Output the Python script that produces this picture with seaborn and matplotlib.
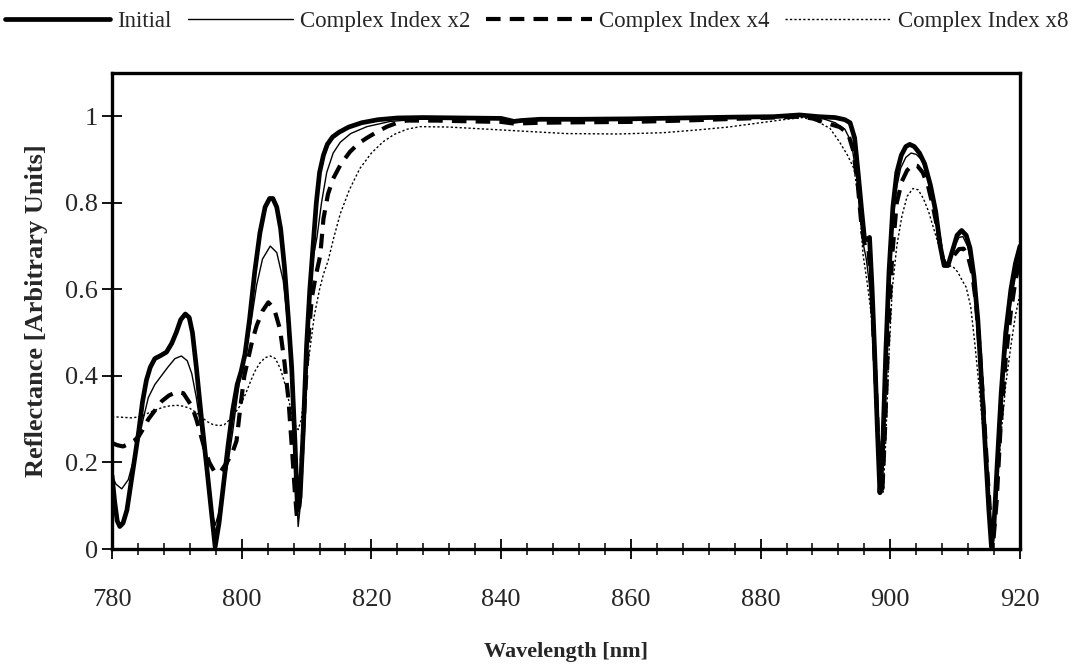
import matplotlib
matplotlib.use("Agg")
import matplotlib.pyplot as plt
from matplotlib.ticker import MultipleLocator
import seaborn as sns
import pandas as pd

# ---------------- data ----------------
series_labels = ["Initial", "Complex Index x2", "Complex Index x4", "Complex Index x8"]

wl_initial = [
    780, 780.4, 780.8, 781.2, 781.7, 782.3, 783, 783.6, 784.1, 784.7,
    785.3, 785.9, 786.6, 787.5, 788.4, 789.2, 789.9, 790.6, 791.3, 791.9,
    792.4, 793, 793.8, 794.6, 795.3, 795.9, 796.5, 797.2, 797.9, 798.6,
    799.3, 799.9, 800.5, 801.2, 802.0, 802.8, 803.6, 804.3, 804.8, 805.4,
    806.0, 806.6, 807.2, 807.7, 808.2, 808.6, 809.0, 809.5, 810.0, 810.5,
    811.0, 811.5, 812.0, 812.6, 813.2, 814.0, 815.0, 816.5, 818.5, 821,
    824, 828, 834, 840, 842, 843, 846, 852, 860, 868,
    876, 882, 886, 889, 891.5, 893, 893.8, 894.5, 895.1, 895.6,
    896.0, 896.4, 896.8, 897.2, 897.6, 898.0, 898.4, 898.8, 899.3, 899.8,
    900.4, 901.0, 901.7, 902.4, 903.0, 903.7, 904.5, 905.3, 906.2, 907.0,
    907.7, 908.3, 908.9, 909.6, 910.3, 911.0, 911.7, 912.3, 912.9, 913.5,
    914.1, 914.7, 915.2, 915.6, 916.0, 916.5, 917.1, 917.8, 918.6, 919.3,
    920,
]
r_initial = [
    0.17, 0.11, 0.065, 0.052, 0.06, 0.09, 0.16, 0.22, 0.27, 0.34,
    0.39, 0.42, 0.44, 0.447, 0.455, 0.475, 0.50, 0.53, 0.543, 0.535,
    0.50, 0.42, 0.30, 0.19, 0.09, 0.005, 0.06, 0.15, 0.24, 0.32,
    0.38, 0.41, 0.45, 0.53, 0.64, 0.73, 0.79, 0.81, 0.81, 0.79,
    0.74, 0.65, 0.53, 0.42, 0.25, 0.09, 0.12, 0.28, 0.47, 0.60,
    0.70, 0.80, 0.87, 0.91, 0.935, 0.952, 0.963, 0.975, 0.985, 0.992,
    0.996, 0.997, 0.996, 0.995, 0.988, 0.99, 0.993, 0.993, 0.994, 0.996,
    0.998, 0.999, 1.003, 0.999, 0.997, 0.992, 0.985, 0.95, 0.86, 0.78,
    0.72, 0.715, 0.72, 0.60, 0.45, 0.28, 0.13, 0.22, 0.45, 0.64,
    0.79, 0.87, 0.91, 0.93, 0.935, 0.93, 0.915, 0.89, 0.84, 0.78,
    0.70, 0.655, 0.655, 0.69, 0.725, 0.736, 0.725, 0.695, 0.63, 0.53,
    0.38, 0.22, 0.09, 0.005, 0.06, 0.20, 0.36, 0.50, 0.60, 0.66,
    0.70,
]

wl_x2 = [
    780, 780.6, 781.5, 782.5, 783.4, 784.1, 784.8, 785.6, 786.6, 787.6,
    788.6, 789.7, 790.7, 791.6, 792.3, 793, 793.6, 794.3, 795, 795.5,
    795.9, 796.4, 797.1, 797.9, 798.6, 799.3, 800, 800.7, 801.5, 802.3,
    803.2, 804.4, 805.4, 806.4, 807.1, 807.7, 808.2, 808.7, 809.1, 809.6,
    810.1, 810.6, 811.1, 811.6, 812.3, 813.1, 814.1, 815.2, 816.8, 819.3,
    822.9, 827, 834, 840, 842, 843, 848, 856, 864, 872,
    880, 885, 887, 889.5, 891.5, 893, 894, 894.8, 895.4, 895.9,
    896.3, 896.8, 897.3, 897.8, 898.3, 898.7, 899.1, 899.6, 900.2, 900.9,
    901.6, 902.4, 903.2, 904.0, 904.8, 905.6, 906.5, 907.3, 908.0, 908.6,
    909.2, 909.9, 910.6, 911.2, 911.9, 912.5, 913.2, 913.8, 914.4, 915.0,
    915.5, 915.9, 916.4, 917.0, 917.8, 918.6, 919.3, 920,
]
r_x2 = [
    0.17, 0.15, 0.139, 0.16, 0.21, 0.25, 0.30, 0.35, 0.38, 0.40,
    0.42, 0.44, 0.446, 0.435, 0.405, 0.35, 0.29, 0.21, 0.13, 0.08,
    0.055, 0.08, 0.14, 0.20, 0.27, 0.35, 0.42, 0.46, 0.53, 0.61,
    0.67, 0.70, 0.685, 0.62, 0.52, 0.38, 0.22, 0.052, 0.11, 0.30,
    0.48, 0.62, 0.68, 0.72, 0.80, 0.87, 0.915, 0.94, 0.96, 0.976,
    0.988, 0.993, 0.994, 0.993, 0.987, 0.99, 0.991, 0.992, 0.993, 0.995,
    0.997, 1.0, 1.0, 0.995, 0.985, 0.97, 0.94, 0.86, 0.76, 0.70,
    0.67, 0.61, 0.50, 0.33, 0.16, 0.13, 0.27, 0.52, 0.72, 0.83,
    0.88, 0.905, 0.915, 0.912, 0.90, 0.87, 0.81, 0.74, 0.67, 0.655,
    0.67, 0.70, 0.72, 0.722, 0.70, 0.66, 0.57, 0.44, 0.29, 0.15,
    0.05, 0.02, 0.12, 0.30, 0.46, 0.57, 0.63, 0.68,
]

wl_x4 = [
    780, 780.8, 781.7, 782.6, 783.4, 784.1, 784.9, 785.6, 786.6, 787.7,
    788.8, 790.0, 791.0, 792.3, 793.0, 793.6, 794.3, 795.0, 795.9, 796.8,
    797.7, 798.5, 799.2, 799.8, 800.4, 801.0, 801.6, 802.3, 803.2, 804.1,
    805.0, 805.9, 806.6, 807.2, 807.8, 808.2, 808.5, 808.9, 809.5, 810.2,
    810.8, 811.4, 812.1, 812.6, 813.3, 814.1, 815.3, 816.7, 818, 819.3,
    821, 822.4, 824, 825.4, 830, 836, 840, 842, 846, 852,
    860, 868, 876, 882, 886, 888, 890, 892.2, 893.5, 894.3,
    895.0, 895.6, 896.1, 896.6, 897.0, 897.5, 898.0, 898.4, 898.8, 899.2,
    899.7, 900.3, 901.0, 901.8, 902.6, 903.4, 904.2, 905.0, 905.8, 906.6,
    907.4, 908.1, 908.6, 909.2, 909.9, 910.6, 911.3, 912.0, 912.6, 913.2,
    913.8, 914.4, 915.0, 915.5, 915.9, 916.4, 917.0, 917.8, 918.6, 919.3,
    920,
]
r_x4 = [
    0.245, 0.24, 0.237, 0.243, 0.25, 0.26, 0.28, 0.30, 0.32, 0.342,
    0.355, 0.363, 0.36, 0.33, 0.30, 0.268, 0.23, 0.20, 0.176, 0.18,
    0.20, 0.22, 0.25, 0.33, 0.40, 0.44, 0.48, 0.516, 0.55, 0.57,
    0.555, 0.508, 0.43, 0.346, 0.22, 0.13, 0.075, 0.10, 0.28, 0.47,
    0.58, 0.63, 0.678, 0.763, 0.82, 0.856, 0.89, 0.918, 0.937, 0.95,
    0.965, 0.976, 0.985, 0.99, 0.99, 0.988, 0.987, 0.983, 0.985, 0.986,
    0.987, 0.99, 0.994, 0.997, 0.999, 0.995, 0.985, 0.975, 0.96, 0.92,
    0.84, 0.74, 0.70, 0.70, 0.62, 0.47, 0.30, 0.16, 0.14, 0.28,
    0.50, 0.68, 0.80, 0.85, 0.875, 0.887, 0.885, 0.87, 0.84, 0.79,
    0.73, 0.67, 0.655, 0.665, 0.68, 0.693, 0.694, 0.675, 0.64, 0.57,
    0.46, 0.32, 0.17, 0.06, 0.02, 0.11, 0.28, 0.44, 0.55, 0.62,
    0.67,
]

wl_x8 = [
    780, 781, 782, 783, 784, 785, 786, 787, 788, 789,
    790, 791, 792, 793, 793.8, 794.6, 795.5, 796.5, 797.3, 798.2,
    799, 799.7, 800.5, 801.3, 802.0, 802.8, 803.6, 804.4, 805.2, 806.0,
    806.7, 807.3, 807.8, 808.3, 808.7, 809.2, 809.8, 810.5, 811.2, 812.0,
    812.6, 813.3, 814.2, 815.2, 816.6, 818.2, 820, 821.8, 823.5, 825.5,
    827.5, 832, 838, 844, 850, 858, 865, 870, 875, 880,
    884, 886.5, 888.5, 890.7, 892.2, 893.4, 894.4, 895.2, 895.8, 896.4,
    897.0, 897.6, 898.1, 898.5, 898.9, 899.3, 899.7, 900.3, 901.0, 901.8,
    902.6, 903.5, 904.3, 905.1, 905.9, 906.7, 907.5, 908.3, 909.0, 909.7,
    910.4, 911.1, 911.7, 912.4, 913.0, 913.6, 914.2, 914.8, 915.3, 915.8,
    916.3, 917.0, 917.8, 918.6, 919.3, 920,
]
r_x8 = [
    0.305, 0.305, 0.304, 0.303, 0.305, 0.31, 0.317, 0.323, 0.328, 0.331,
    0.332, 0.33, 0.325, 0.315, 0.305, 0.295, 0.288, 0.285, 0.287, 0.30,
    0.315, 0.33, 0.355, 0.385, 0.41, 0.43, 0.442, 0.446, 0.44, 0.415,
    0.38, 0.34, 0.31, 0.285, 0.276, 0.30, 0.38, 0.46, 0.54, 0.60,
    0.635, 0.665, 0.72, 0.775, 0.83, 0.879, 0.915, 0.941, 0.958, 0.97,
    0.976, 0.975, 0.97, 0.965, 0.96, 0.959, 0.962, 0.968, 0.975, 0.985,
    0.993, 0.997, 0.99, 0.972, 0.94, 0.91, 0.879, 0.80, 0.68, 0.62,
    0.55, 0.42, 0.28, 0.15, 0.13, 0.25, 0.42, 0.60, 0.70, 0.77,
    0.815, 0.833, 0.83, 0.81, 0.78, 0.74, 0.70, 0.67, 0.655, 0.652,
    0.64, 0.62, 0.605, 0.56, 0.48, 0.39, 0.29, 0.18, 0.09, 0.03,
    0.10, 0.25, 0.38, 0.47, 0.54, 0.59,
]

x_ticks = [780, 800, 820, 840, 860, 880, 900, 920]
y_ticks = [0, 0.2, 0.4, 0.6, 0.8, 1.0]
y_tick_labels = ["0", "0.2", "0.4", "0.6", "0.8", "1"]

# ---------------- figure ----------------
sns.set_theme(style="white")
plt.rcParams["font.family"] = ["Liberation Serif", "DejaVu Serif"]

fig = plt.figure(figsize=(10.73, 6.67), dpi=100)
ax = fig.add_axes([0.1044, 0.1769, 0.8462, 0.7137])

styles = [
    dict(lw=3.4, dashes=None),
    dict(lw=1.0, dashes=None),
    dict(lw=3.0, dashes=(3.5, 2.2)),
    dict(lw=1.0, dashes=(1.6, 1.6)),
]
data = [(wl_initial, r_initial), (wl_x2, r_x2), (wl_x4, r_x4), (wl_x8, r_x8)]

for (wl, r), lab, st in zip(data, series_labels, styles):
    df = pd.DataFrame({"Wavelength": wl, "Reflectance": r})
    sns.lineplot(data=df, x="Wavelength", y="Reflectance", ax=ax,
                 color="black", lw=st["lw"], label=lab, sort=False,
                 legend=False)
    ln = ax.lines[-1]
    ln.set_solid_joinstyle("round")
    if st["dashes"] is not None:
        ln.set_dashes(st["dashes"])

ax.set_xlim(780, 920)
ax.set_ylim(0, 1.1)
ax.set_xticks(x_ticks)
ax.set_yticks(y_ticks)
ax.set_yticklabels(y_tick_labels)
ax.xaxis.set_minor_locator(MultipleLocator(4))

ax.tick_params(axis="x", which="major", direction="inout", length=14, width=1.3,
               pad=22, labelsize=19, color="black", bottom=True)
ax.tick_params(axis="x", which="minor", direction="inout", length=8, width=1.1,
               color="black", bottom=True)
ax.tick_params(axis="y", which="major", direction="inout", length=14, width=1.3,
               pad=3, labelsize=19, color="black", left=True)

for sp in ax.spines.values():
    sp.set_visible(True)
    sp.set_color("black")
    sp.set_linewidth(2.4)

ax.set_xlabel("Wavelength [nm]", fontsize=16, fontweight="bold", labelpad=22)
ax.set_ylabel("Reflectance [Arbitrary Units]", fontsize=19, fontweight="bold",
              labelpad=12)

handles, labels = ax.get_legend_handles_labels()
fig.legend(handles, labels, loc="upper center", bbox_to_anchor=(0.5, 0.997),
           ncol=4, frameon=False, fontsize=16.5, handlelength=4.6,
           handletextpad=0.3, columnspacing=0.7, borderaxespad=0.2,
           borderpad=0.2)

fig.savefig("out.png", dpi=100, facecolor="white")
